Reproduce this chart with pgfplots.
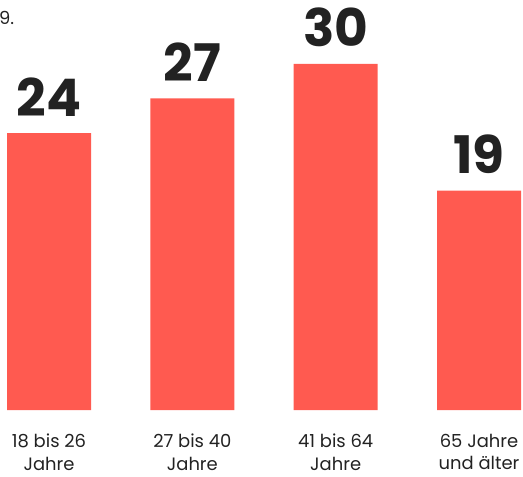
\documentclass[border=0pt]{standalone}
\usepackage{pgfplots}
\pgfplotsset{compat=1.18}
\usepackage{fontspec}
\setmainfont{Poppins}
\definecolor{barred}{HTML}{FF5A50}
\definecolor{txt}{HTML}{222222}
\begin{document}
\begin{tikzpicture}
\path[use as bounding box] (0,0) rectangle (523bp,477bp);
\node[anchor=base west, inner sep=0, font=\fontsize{18}{20}\selectfont, text=txt] at (-1bp,452bp) {9.};
\begin{axis}[
  at={(0,67bp)}, anchor=south west, scale only axis,
  width=523bp, height=410bp,
  xmin=-0.3419, xmax=3.307, ymin=0, ymax=35.524,
  axis line style={draw=none}, tick style={draw=none},
  ytick=\empty, xtick=data,
  xticklabels={{18 bis 26\\Jahre},{27 bis 40\\Jahre},{41 bis 64\\Jahre},{65 Jahre\\und älter}},
  xticklabel style={align=center, font=\fontsize{18}{23}\selectfont, text=txt, yshift=-16bp},
  clip=false,
  ybar, bar width=84bp,
  /pgf/number format/assume math mode=true,
  nodes near coords,
  every node near coord/.append style={font=\bfseries\fontsize{52}{52}\selectfont, text=txt, anchor=base, inner sep=0, yshift=17bp},
]
\addplot[fill=barred, draw=none] coordinates {(0,24) (1,27) (2,30) (3,19)};
\end{axis}
\end{tikzpicture}
\end{document}
